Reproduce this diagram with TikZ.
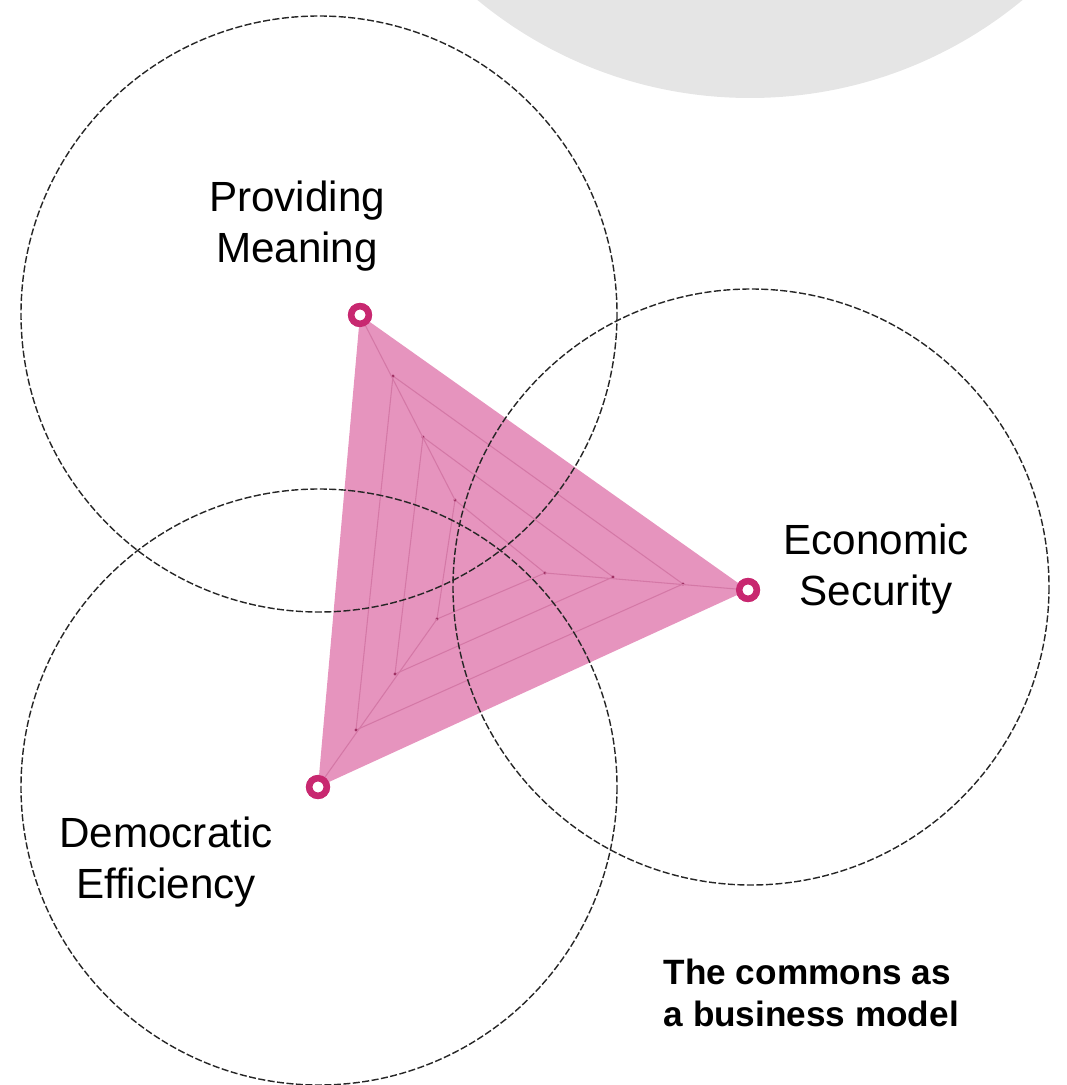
\documentclass[tikz,border=0pt]{standalone}
\usepackage{fontspec}
\setmainfont{Liberation Sans}
\usetikzlibrary{calc}

\definecolor{tripink}{RGB}{230,148,190}
\definecolor{ringpink}{RGB}{200,40,112}
\definecolor{greybg}{RGB}{229,229,229}
\definecolor{gridpink}{RGB}{212,120,166}
\definecolor{dotpink}{RGB}{160,50,100}

\tikzset{
  ring/.style={draw=ringpink, circle, fill=white, line width=1.85pt, minimum size=5pt, inner sep=0pt},
  zone/.style={draw=black!85, line width=0.4pt, dash pattern=on 2pt off 0.7pt},
  gridline/.style={draw=gridpink, line width=0.3pt},
  lab/.style={align=center, inner sep=0pt, font=\fontsize{12}{14.6}\selectfont},
  headline/.style={align=left, inner sep=0pt, font=\fontsize{10}{12}\selectfont\bfseries}
}

\begin{document}
\begin{tikzpicture}[x=0.01cm,y=-0.01cm]
   \useasboundingbox (0,0) rectangle (1067,1085);
   \clip (0,0) rectangle (1067,1085);

   % Background
   \fill[greybg] (750,-330) circle (428);

   \node[ring] (v_0) at (360,315) {};
   \node[ring] (v_1) at (748,590) {};
   \node[ring] (v_2) at (318,787) {};

   \fill[tripink] (v_0.center) -- (v_1.center) -- (v_2.center) -- cycle;

   % Grid
   \coordinate (g1_0) at (393,376);
   \coordinate (g1_1) at (683,584);
   \coordinate (g1_2) at (356,730);
   \coordinate (g2_0) at (423,437);
   \coordinate (g2_1) at (613,577);
   \coordinate (g2_2) at (395,674);
   \coordinate (g3_0) at (455,500);
   \coordinate (g3_1) at (545,573);
   \coordinate (g3_2) at (437,619);

   \foreach \i in {1,2,3} {
      \path[gridline] (g\i_0) -- (g\i_1) -- (g\i_2) -- cycle;
      \foreach \j in {0,1,2}
         \fill[dotpink] (g\i_\j) circle (1.6);
   }
   \path[gridline] (v_0.center) -- (g3_0);
   \path[gridline] (v_1.center) -- (g3_1);
   \path[gridline] (v_2.center) -- (g3_2);

   % Circles
   \path[zone] (319,314) circle (298);
   \path[zone] (751,587) circle (298);
   \path[zone] (319,787) circle (298);

   \node[ring] at (v_0) {};
   \node[ring] at (v_1) {};
   \node[ring] at (v_2) {};

   \node[lab] (l_0) at (297,226) {Providing\\Meaning};
   \node[lab] (l_1) at (876,569) {Economic\\Security};
   \node[lab] (l_2) at (166,862) {Democratic\\Efficiency};

   \node[headline, anchor=north west] (t_0) at (663,958) {The commons as\\a business model};

\end{tikzpicture}
\end{document}
